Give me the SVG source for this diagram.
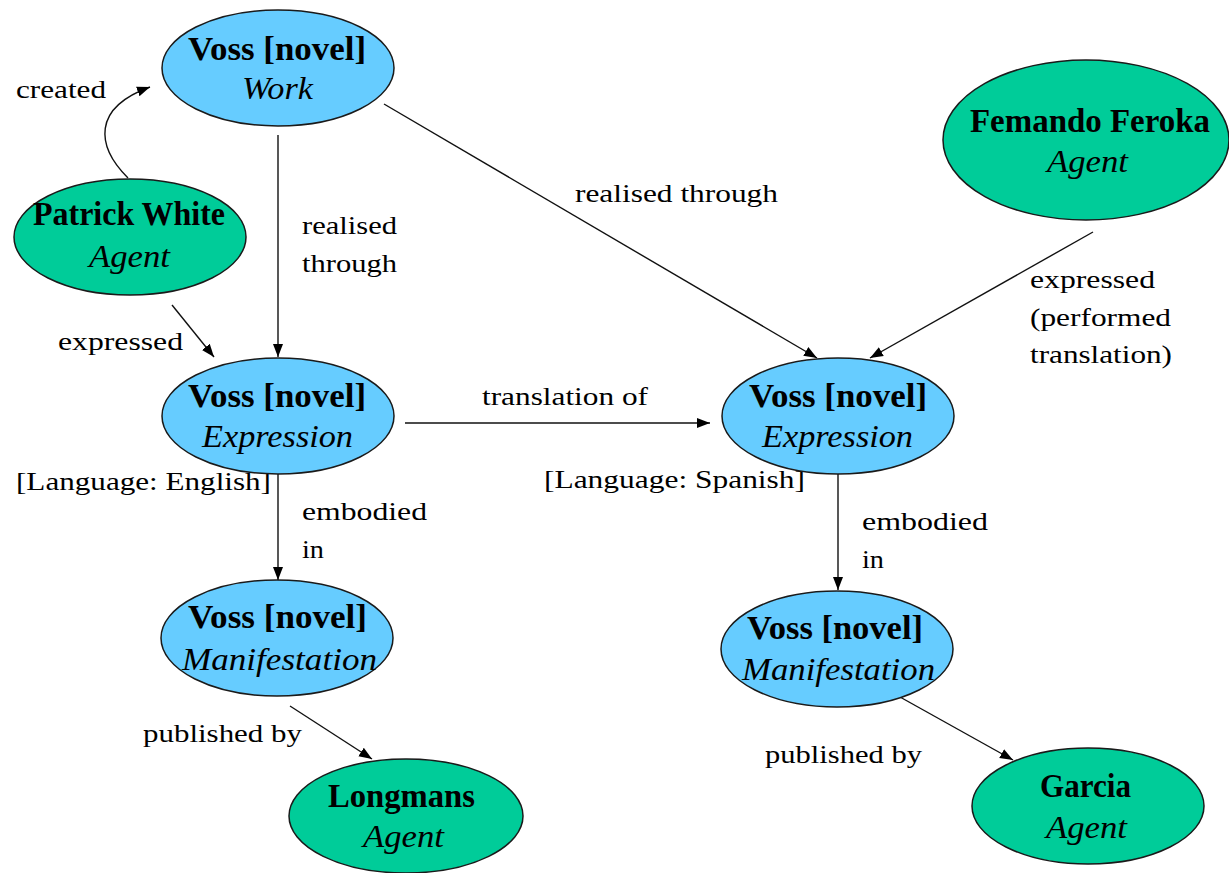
<svg xmlns="http://www.w3.org/2000/svg" width="1229" height="873" viewBox="0 0 1229 873">
  <style>
    .work { fill: #66ccff; stroke: #1a1a1a; stroke-width: 1.5; }
    .agent { fill: #00cc99; stroke: #1a1a1a; stroke-width: 1.5; }
    .title { font-family: "Liberation Serif", "Times New Roman", serif; font-weight: bold; font-size: 33px; fill: #000; }
    .kind { font-family: "Liberation Serif", "Times New Roman", serif; font-style: italic; font-size: 32px; fill: #000; }
    .lbl { font-family: "Liberation Serif", "Times New Roman", serif; font-size: 26px; fill: #000; }
    .edge { fill: none; stroke: #111; stroke-width: 1.4; marker-end: url(#arrow); }
  </style>
  <defs>
    <marker id="arrow" markerUnits="userSpaceOnUse" markerWidth="14" markerHeight="12" viewBox="0 0 14 12" refX="13" refY="6" orient="auto">
      <path d="M0,1 L13,6 L0,11 Z" fill="#000"/>
    </marker>
  </defs>
  <rect width="1229" height="873" fill="#fff"/>

  <!-- relationships -->
  <g id="connectors">
    <path class="edge" d="M128,178 C96,146 92,108 150,87"/>
    <path class="edge" d="M278,135 L278,357"/>
    <path class="edge" d="M384,104 L817,358"/>
    <path class="edge" d="M172,305 L214,357"/>
    <path class="edge" d="M1093,232 L870,358"/>
    <path class="edge" d="M405,423 L710,423"/>
    <path class="edge" d="M278,474 L278,580"/>
    <path class="edge" d="M838,474 L838,590"/>
    <path class="edge" d="M290,706 L372,759"/>
    <path class="edge" d="M900,697 L1013,760"/>
  </g>

  <g id="edge-labels">
    <text class="lbl" x="16" y="98" textLength="90" lengthAdjust="spacingAndGlyphs">created</text>
    <text class="lbl" x="302" y="234" textLength="95" lengthAdjust="spacingAndGlyphs">realised</text>
    <text class="lbl" x="302" y="272" textLength="95" lengthAdjust="spacingAndGlyphs">through</text>
    <text class="lbl" x="575" y="202" textLength="203" lengthAdjust="spacingAndGlyphs">realised through</text>
    <text class="lbl" x="58" y="350" textLength="125" lengthAdjust="spacingAndGlyphs">expressed</text>
    <text class="lbl" x="1030" y="288" textLength="125" lengthAdjust="spacingAndGlyphs">expressed</text>
    <text class="lbl" x="1030" y="326" textLength="141" lengthAdjust="spacingAndGlyphs">(performed</text>
    <text class="lbl" x="1030" y="363" textLength="142" lengthAdjust="spacingAndGlyphs">translation)</text>
    <text class="lbl" x="482" y="405" textLength="166" lengthAdjust="spacingAndGlyphs">translation of</text>
    <text class="lbl" x="16" y="490" textLength="255" lengthAdjust="spacingAndGlyphs">[Language: English]</text>
    <text class="lbl" x="544" y="488" textLength="261" lengthAdjust="spacingAndGlyphs">[Language: Spanish]</text>
    <text class="lbl" x="302" y="520" textLength="125" lengthAdjust="spacingAndGlyphs">embodied</text>
    <text class="lbl" x="302" y="558" textLength="22" lengthAdjust="spacingAndGlyphs">in</text>
    <text class="lbl" x="862" y="530" textLength="126" lengthAdjust="spacingAndGlyphs">embodied</text>
    <text class="lbl" x="862" y="568" textLength="22" lengthAdjust="spacingAndGlyphs">in</text>
    <text class="lbl" x="143" y="742" textLength="159" lengthAdjust="spacingAndGlyphs">published by</text>
    <text class="lbl" x="765" y="763" textLength="157" lengthAdjust="spacingAndGlyphs">published by</text>
  </g>

  <g id="work">
    <ellipse class="work" cx="278" cy="68" rx="116" ry="58"/>
    <text class="title" x="188" y="60" textLength="178" lengthAdjust="spacingAndGlyphs">Voss [novel]</text>
    <text class="kind" x="242" y="99" textLength="71" lengthAdjust="spacingAndGlyphs">Work</text>
  </g>

  <g id="patrick-white">
    <ellipse class="agent" cx="130" cy="237" rx="116" ry="58"/>
    <text class="title" x="33" y="225" textLength="192" lengthAdjust="spacingAndGlyphs">Patrick White</text>
    <text class="kind" x="89" y="267" textLength="81" lengthAdjust="spacingAndGlyphs">Agent</text>
  </g>

  <g id="fernando-feroka">
    <ellipse class="agent" cx="1086" cy="140" rx="143" ry="80"/>
    <text class="title" x="970" y="132" textLength="240" lengthAdjust="spacingAndGlyphs">Femando Feroka</text>
    <text class="kind" x="1047" y="172" textLength="81" lengthAdjust="spacingAndGlyphs">Agent</text>
  </g>

  <g id="expression-english">
    <ellipse class="work" cx="278" cy="416" rx="116" ry="58"/>
    <text class="title" x="188" y="407" textLength="178" lengthAdjust="spacingAndGlyphs">Voss [novel]</text>
    <text class="kind" x="202" y="447" textLength="151" lengthAdjust="spacingAndGlyphs">Expression</text>
  </g>

  <g id="expression-spanish">
    <ellipse class="work" cx="838" cy="416" rx="116" ry="58"/>
    <text class="title" x="749" y="407" textLength="178" lengthAdjust="spacingAndGlyphs">Voss [novel]</text>
    <text class="kind" x="762" y="447" textLength="151" lengthAdjust="spacingAndGlyphs">Expression</text>
  </g>

  <g id="manifestation-english">
    <ellipse class="work" cx="277" cy="638" rx="116" ry="58"/>
    <text class="title" x="188" y="628" textLength="179" lengthAdjust="spacingAndGlyphs">Voss [novel]</text>
    <text class="kind" x="182" y="670" textLength="195" lengthAdjust="spacingAndGlyphs">Manifestation</text>
  </g>

  <g id="manifestation-spanish">
    <ellipse class="work" cx="837" cy="649" rx="116" ry="58"/>
    <text class="title" x="747" y="639" textLength="176" lengthAdjust="spacingAndGlyphs">Voss [novel]</text>
    <text class="kind" x="742" y="680" textLength="193" lengthAdjust="spacingAndGlyphs">Manifestation</text>
  </g>

  <g id="longmans">
    <ellipse class="agent" cx="406" cy="816" rx="117" ry="57"/>
    <text class="title" x="328" y="807" textLength="147" lengthAdjust="spacingAndGlyphs">Longmans</text>
    <text class="kind" x="363" y="847" textLength="81" lengthAdjust="spacingAndGlyphs">Agent</text>
  </g>

  <g id="garcia">
    <ellipse class="agent" cx="1088" cy="806" rx="116" ry="58"/>
    <text class="title" x="1040" y="797" textLength="91" lengthAdjust="spacingAndGlyphs">Garcia</text>
    <text class="kind" x="1046" y="838" textLength="81" lengthAdjust="spacingAndGlyphs">Agent</text>
  </g>
</svg>
